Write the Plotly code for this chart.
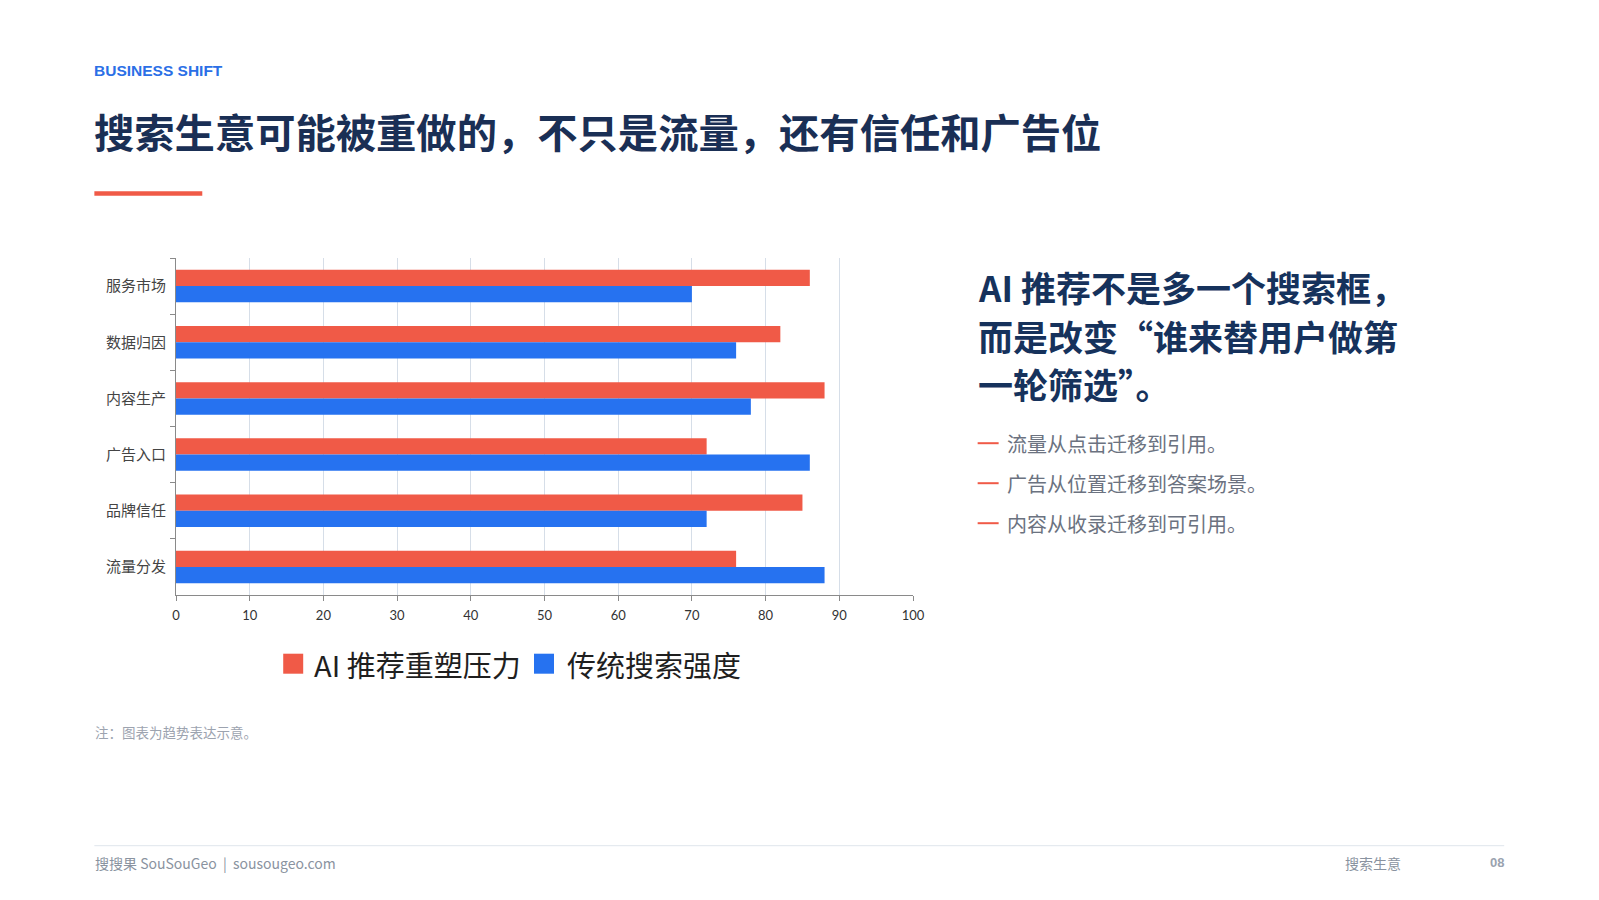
import plotly.graph_objects as go

categories = ["服务市场", "数据归因", "内容生产", "广告入口", "品牌信任", "流量分发"]
ai_pressure = [86, 82, 88, 72, 85, 76]
traditional = [70, 76, 78, 86, 72, 88]
series_names = ["AI 推荐重塑压力", "传统搜索强度"]
x_ticks = [0, 10, 20, 30, 40, 50, 60, 70, 80, 90, 100]

RED = "#F05A47"
BLUE = "#2672F0"
W, H = 1599, 900
L, R, T, B = 175.7, 913.3, 258.3, 595.3
PW, PH = R - L, B - T


def px(x):
    return (x - L) / PW


def py(y):
    return (B - y) / PH


fig = go.Figure()
fig.add_trace(go.Bar(y=categories, x=ai_pressure, orientation="h", name=series_names[0],
                     marker=dict(color=RED, line=dict(width=0))))
fig.add_trace(go.Bar(y=categories, x=traditional, orientation="h", name=series_names[1],
                     marker=dict(color=BLUE, line=dict(width=0))))

CJK = "Noto Sans CJK SC"

fig.update_layout(
    width=W, height=H, autosize=False,
    margin=dict(l=L, r=W - R, t=T, b=H - B, pad=0),
    paper_bgcolor="white", plot_bgcolor="white",
    barmode="group", bargap=0.42, bargroupgap=0,
    showlegend=False,
    xaxis=dict(range=[0, 100], tickvals=x_ticks, showgrid=True, gridcolor="#D6DEE8", gridwidth=1,
               zeroline=False, showline=True, linecolor="#8A8A8A", linewidth=1,
               ticks="outside", ticklen=5, tickcolor="#8A8A8A", ticklabelstandoff=3,
               tickfont=dict(family="Lato", size=13, color="#333333")),
    yaxis=dict(autorange="reversed", showgrid=False, zeroline=False, showline=True,
               linecolor="#8A8A8A", linewidth=1, ticks="outside", ticklen=5, tickcolor="#8A8A8A",
               tickson="boundaries", ticklabelstandoff=6,
               tickfont=dict(family=CJK, size=15, color="#444444")),
)

ann = []
shapes = []


def text(x, y, s, size, color, family=CJK, weight=400, xanchor="left"):
    ann.append(dict(x=px(x), y=py(y), xref="paper", yref="paper", text=s, showarrow=False,
                    xanchor=xanchor, yanchor="middle",
                    font=dict(family=family, size=size, color=color, weight=weight)))


# header
text(92, 71, "BUSINESS SHIFT", 15.5, "#2B6FE6", family="Liberation Sans", weight=700)
text(92, 131, "搜索生意可能被重做的，不只是流量，还有信任和广告位", 40.3, "#1A2F55", weight=700)
shapes.append(dict(type="rect", xref="paper", yref="paper", x0=px(94), x1=px(202), y0=py(196), y1=py(191.5),
                   fillcolor=RED, line=dict(width=0)))

# right panel
head_lines = ["AI 推荐不是多一个搜索框，", "而是改变“谁来替用户做第", "一轮筛选”。"]
for i, s in enumerate(head_lines):
    text(976, 287 + i * 48.5, s, 35, "#16325C", weight=700)
bullets = ["流量从点击迁移到引用。", "广告从位置迁移到答案场景。", "内容从收录迁移到可引用。"]
for i, s in enumerate(bullets):
    yy = 443.5 + i * 40
    shapes.append(dict(type="line", xref="paper", yref="paper", x0=px(978), x1=px(999), y0=py(yy), y1=py(yy),
                       line=dict(color=RED, width=2)))
    text(1005, yy, s, 20, "#6B7280")

# legend
for (x0, col, name, tx) in [(283, RED, series_names[0], 312), (534, BLUE, series_names[1], 565)]:
    shapes.append(dict(type="rect", xref="paper", yref="paper", x0=px(x0), x1=px(x0 + 20),
                       y0=py(674), y1=py(654), fillcolor=col, line=dict(width=0)))
    text(tx, 664, name, 29, "#1F1F1F")

# note
text(93, 732, "注：图表为趋势表达示意。", 13.5, "#9CA3AF")

# footer
shapes.append(dict(type="line", xref="paper", yref="paper", x0=px(94), x1=px(1505), y0=py(846), y1=py(846),
                   line=dict(color="#DFE5EC", width=1)))
text(93, 863, "搜搜果 SouSouGeo  |  sousougeo.com", 14, "#8A93A0")
text(1344, 863, "搜索生意", 14, "#8A93A0")
text(1507, 863, "08", 13, "#9AA3AF", family="Liberation Sans", weight=700, xanchor="right")

fig.update_layout(annotations=ann, shapes=shapes)
fig.write_html("out.html")
